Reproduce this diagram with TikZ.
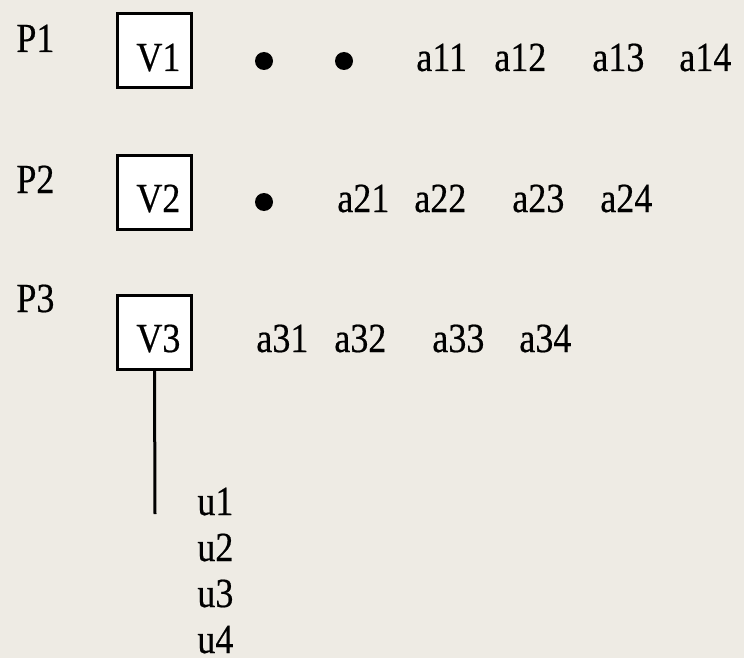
\documentclass[tikz,border=0pt]{standalone}
\usepackage{graphicx}
\usepackage{fontspec}
\setmainfont{Liberation Serif}
\newfontfamily\lblfont{Liberation Serif}[FakeBold=0.5]
\usepackage{xcolor}
\definecolor{paper}{RGB}{238,235,228}

% letters are a bit taller than wide
\newcommand{\tall}[1]{\scalebox{1}[1.15]{#1}}

\tikzset{
  vbox/.style={draw,fill=white,line width=1.5pt,minimum size=37pt,inner sep=0pt},
  lbl/.style={anchor=base west,inner sep=0pt,font=\lblfont\fontsize{18}{22}\selectfont},
  dot/.style={circle,fill,inner sep=0pt,minimum size=9pt}
}

\begin{document}
\begin{tikzpicture}[x=0.5pt,y=-0.5pt]
    \fill[paper] (0,0) rectangle (744,658);
    \useasboundingbox (0,0) rectangle (744,658);
    % row 1
    \node[lbl] (p1) at (16,52) {\tall{P1}};
    \node[vbox] (v1) at (154.5,51) {};
    \node[lbl] (v1t) at (136,71) {\tall{V1}};
    \node[dot] (d11) at (264,61) {};
    \node[dot] (d12) at (344,61) {};
    \node[lbl] (a11) at (416,71) {\tall{a11}};
    \node[lbl] (a12) at (494,71) {\tall{a12}};
    \node[lbl] (a13) at (592,71) {\tall{a13}};
    \node[lbl] (a14) at (679,71) {\tall{a14}};
    % row 2
    \node[lbl] (p2) at (16,193) {\tall{P2}};
    \node[vbox] (v2) at (154.5,192) {};
    \node[lbl] (v2t) at (136,212) {\tall{V2}};
    \node[dot] (d21) at (264,202) {};
    \node[lbl] (a21) at (337,212) {\tall{a21}};
    \node[lbl] (a22) at (414,212) {\tall{a22}};
    \node[lbl] (a23) at (512,212) {\tall{a23}};
    \node[lbl] (a24) at (600,212) {\tall{a24}};
    % row 3
    \node[lbl] (p3) at (16,312) {\tall{P3}};
    \node[vbox] (v3) at (154.5,332.5) {};
    \node[lbl] (v3t) at (136,352) {\tall{V3}};
    \node[lbl] (a31) at (256,352) {\tall{a31}};
    \node[lbl] (a32) at (334,352) {\tall{a32}};
    \node[lbl] (a33) at (432,352) {\tall{a33}};
    \node[lbl] (a34) at (519,352) {\tall{a34}};
    % list below V3
    \coordinate (tail) at (155,514);
    \draw[line width=1.5pt] (v3.south) -- (tail);
    \node[lbl] (u1) at (197,515) {\tall{u1}};
    \node[lbl] (u2) at (197,561) {\tall{u2}};
    \node[lbl] (u3) at (197,607) {\tall{u3}};
    \node[lbl] (u4) at (197,653) {\tall{u4}};
  \end{tikzpicture}
\end{document}
